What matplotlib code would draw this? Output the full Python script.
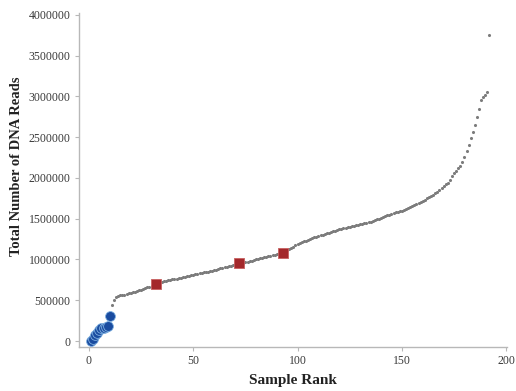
import matplotlib
matplotlib.use("Agg")
import matplotlib.pyplot as plt

# Samples ranked by sequencing depth
blue_rank = [1, 2, 3, 4, 5, 6, 7, 8, 9, 10]
blue_reads = [0, 30000, 70000, 100000, 140000, 155000, 165000, 170000, 180000, 310000]

red_rank = [32, 72, 93]
red_reads = [705000, 955000, 1080000]

gray_rank = list(range(11, 193))
gray_reads_k = [
    440, 500, 540, 555, 560, 565, 570, 576, 583, 590,
    598, 606, 614, 622, 630, 639, 648, 657, 666, 675,
    690, 705, 712, 719, 725, 731, 737, 743, 749, 755,
    760, 766, 771, 777, 782, 788, 793, 799, 804, 810,
    816, 822, 828, 834, 840, 846, 852, 858, 864, 870,
    876, 883, 889, 896, 902, 909, 915, 922, 928, 935,
    945, 955, 958, 962, 965, 972, 979, 986, 993, 1000,
    1006, 1012, 1018, 1024, 1030, 1037, 1044, 1051, 1058, 1065,
    1070, 1075, 1080, 1095, 1110, 1125, 1140, 1157, 1173, 1190,
    1200, 1210, 1220, 1230, 1240, 1250, 1260, 1270, 1280, 1290,
    1298, 1305, 1313, 1320, 1328, 1337, 1345, 1353, 1362, 1370,
    1376, 1382, 1388, 1394, 1400, 1406, 1412, 1418, 1424, 1430,
    1436, 1442, 1448, 1454, 1460, 1470, 1480, 1490, 1500, 1510,
    1520, 1530, 1540, 1550, 1560, 1568, 1576, 1584, 1592, 1600,
    1610, 1620, 1630, 1640, 1650, 1664, 1678, 1692, 1706, 1720,
    1734, 1748, 1762, 1776, 1790, 1810, 1830, 1850, 1875, 1900,
    1920, 1940, 1980, 2020, 2060, 2090, 2120, 2150, 2200, 2250,
    2330, 2400, 2490, 2560, 2650, 2750, 2850, 2950, 2990, 3020,
    3050, 3750,
]
gray_reads = [v * 1000 for v in gray_reads_k]

x_ticks = [0, 50, 100, 150, 200]
y_ticks = [0, 500000, 1000000, 1500000, 2000000, 2500000, 3000000, 3500000, 4000000]

SERIF = "Liberation Serif"
AXIS_GREY = "#b8b8b8"
TEXT = "#3a3a3a"

fig = plt.figure(figsize=(5.16, 3.91), dpi=100)
ax = fig.add_axes([0.153, 0.1125, 0.83, 0.854])

ax.scatter(gray_rank, gray_reads, s=5, color="#7c7c7c", linewidths=0, zorder=2)
ax.scatter(blue_rank, blue_reads, s=50, color="#1a4ca0", edgecolors="#7fb0e0",
           linewidths=0.6, zorder=3)
ax.scatter(red_rank, red_reads, s=60, marker="s", color="#a3282b",
           edgecolors="#c86060", linewidths=0.6, zorder=4)

ax.set_xlim(-4.8, 200.5)
ax.set_ylim(-73500, 4020000)
ax.set_xticks(x_ticks)
ax.set_yticks(y_ticks)
ax.set_xticklabels([str(t) for t in x_ticks], fontfamily=SERIF, fontsize=8.5, color=TEXT)
ax.set_yticklabels([str(t) for t in y_ticks], fontfamily=SERIF, fontsize=8.5, color=TEXT)

for side in ("top", "right"):
    ax.spines[side].set_visible(False)
for side in ("left", "bottom"):
    ax.spines[side].set_color(AXIS_GREY)
    ax.spines[side].set_linewidth(1.0)
ax.tick_params(direction="out", length=3, width=0.8, color=AXIS_GREY, pad=3)

ax.set_xlabel("Sample Rank", fontfamily=SERIF, fontsize=11, fontweight="bold",
              color="#222222")
ax.set_ylabel("Total Number of DNA Reads", fontfamily=SERIF, fontsize=10.5,
              fontweight="bold", color="#222222")
ax.xaxis.set_label_coords(0.5, -0.08)
ax.yaxis.set_label_coords(-0.131, 0.54)

fig.savefig("out.png", dpi=100, facecolor="white")
